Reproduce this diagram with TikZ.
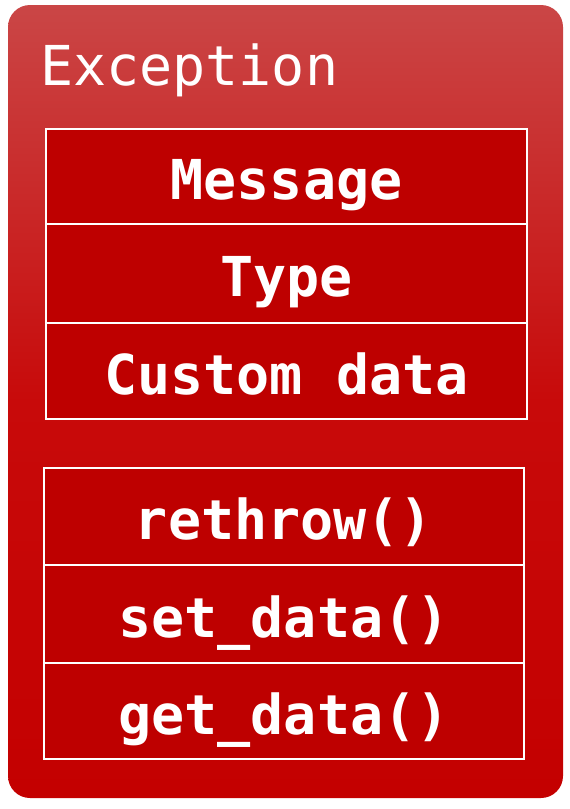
\documentclass[tikz,border=0pt]{standalone}
\usepackage{fontspec}
\setmonofont{DejaVu Sans Mono}
\definecolor{bgtop}{HTML}{CA4646}
\definecolor{bgmid}{HTML}{C80A0A}
\definecolor{bgbot}{HTML}{C40000}
\definecolor{rowfill}{HTML}{BE0000}
\begin{document}
\begin{tikzpicture}[x=1pt,y=-1pt,
  rowbox/.style={draw=white, line width=2pt, fill=rowfill, inner sep=0pt,
    minimum width=#1, text=white, font=\ttfamily\bfseries\fontsize{55}{60}\selectfont,
    text height=46pt, text depth=0pt, anchor=north west},
  titletext/.style={text=white, font=\ttfamily\fontsize{55}{60}\selectfont, inner sep=0pt, anchor=base west}]
\useasboundingbox (0,0) rectangle (570,809);
\shade[top color=bgtop, bottom color=bgbot, middle color=bgmid, rounded corners=22pt]
  (8,5) rectangle (563,798);
\node[titletext] (title) at (40,85) {Exception};
% attributes box
\node[rowbox=481pt, minimum height=95pt] (msg) at (45,128) {Message};
\node[rowbox=481pt, minimum height=99pt] (type) at (45,223) {Type};
\node[rowbox=481pt, minimum height=96pt] (custom) at (45,322) {Custom data};
% methods box
\node[rowbox=480pt, minimum height=97pt] (rethrow) at (43,467) {rethrow()};
\node[rowbox=480pt, minimum height=98pt] (setdata) at (43,564) {set\_data()};
\node[rowbox=480pt, minimum height=96pt] (getdata) at (43,662) {get\_data()};
\end{tikzpicture}
\end{document}
